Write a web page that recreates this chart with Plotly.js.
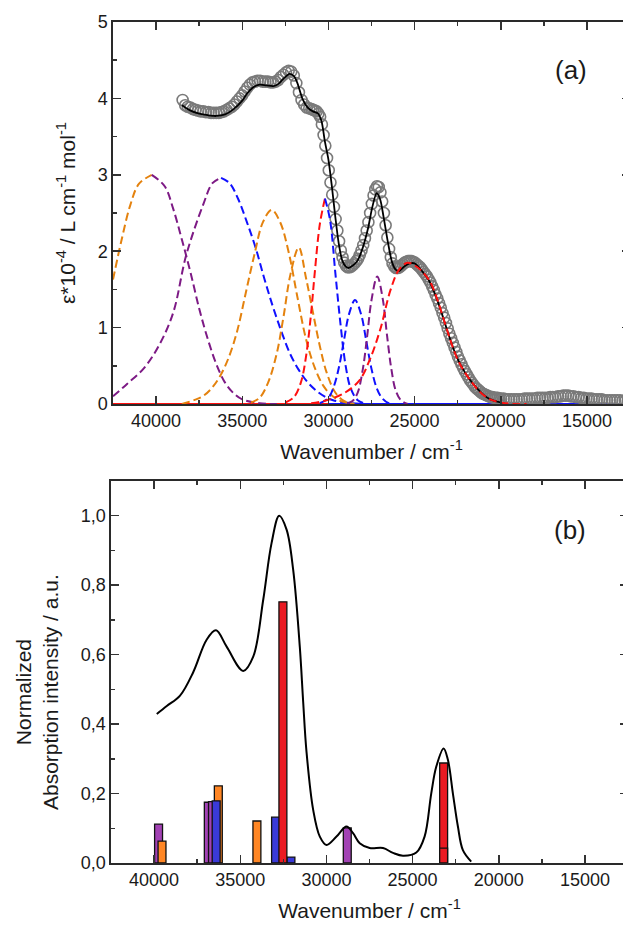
<!DOCTYPE html>
<html><head><meta charset="utf-8">
<script src="https://cdn.plot.ly/plotly-3.0.1.min.js"></script>
<style>html,body{margin:0;padding:0;overflow:hidden;background:#fff}#c{width:632px;height:927px}</style>
</head><body><div id="c"></div>
<script>
// ---------- Panel (a): experimental spectrum (open circles) ----------
const expX = [38460,38310,38160,38010,37860,37710,37560,37410,37260,37110,36960,36810,36660,36510,36360,36210,36060,35910,35760,35610,35460,35310,35160,35010,34860,34710,34560,34410,34260,34110,33960,33810,33660,33510,33360,33210,33060,32910,32760,32610,32460,32310,32160,32010,31860,31710,31560,31410,31260,31110,
30980,30880,30780,30680,30580,30480,30380,30280,30180,30080,29980,29880,29780,29680,29580,29480,29380,29280,29180,29080,28980,28880,28780,28680,28580,28480,28380,28280,28180,28080,27980,27880,27780,27680,27580,27480,27380,27280,27180,27080,26980,26880,26780,26680,26580,26480,26380,26280,26180,26080,
25980,25880,25780,25680,25580,25480,25380,25280,25180,25080,24980,24880,24780,24680,24580,24480,24380,24280,24180,24080,23980,23880,23780,23680,23580,23480,23380,23280,23180,23080,22980,22880,22780,22680,22580,22480,22380,22280,22180,22080,21980,21880,21780,21680,21580,21480,21380,21280,21180,21080,20980,20880,20780,20680,20580,20480,20380,20280,20180,20080,
19980,19830,19680,19530,19380,19230,19080,18930,18780,18630,18480,18330,18180,18030,17880,17730,17580,17430,17280,17130,16980,16830,16680,16530,16380,16230,16080,15930,15780,15630,15480,15330,15180,15030,14880,14730,14580,14430,14280,14130,13980,13830,13680,13530,13380,13230,13080,12930,12780,12630];
const expY = [3.98,3.91,3.89,3.88,3.86,3.85,3.84,3.83,3.83,3.82,3.82,3.81,3.81,3.81,3.81,3.82,3.83,3.85,3.87,3.89,3.92,3.96,4.00,4.04,4.09,4.14,4.18,4.21,4.22,4.23,4.23,4.22,4.22,4.22,4.21,4.21,4.22,4.24,4.28,4.31,4.34,4.36,4.35,4.30,4.20,4.08,3.98,3.92,3.88,3.87,
3.86,3.85,3.84,3.83,3.80,3.76,3.66,3.52,3.38,3.22,3.06,2.90,2.74,2.58,2.42,2.27,2.13,2.01,1.92,1.85,1.81,1.79,1.79,1.80,1.82,1.84,1.87,1.90,1.95,2.01,2.08,2.17,2.27,2.38,2.50,2.62,2.73,2.81,2.85,2.84,2.77,2.65,2.50,2.34,2.18,2.03,1.92,1.84,1.80,1.78,
1.78,1.79,1.81,1.83,1.85,1.86,1.87,1.87,1.87,1.86,1.85,1.83,1.81,1.79,1.76,1.73,1.70,1.67,1.63,1.59,1.54,1.49,1.43,1.38,1.32,1.26,1.19,1.13,1.06,0.99,0.92,0.86,0.80,0.74,0.68,0.62,0.57,0.52,0.47,0.43,0.39,0.35,0.31,0.28,0.25,0.22,0.20,0.18,0.16,0.14,0.13,0.12,0.11,0.10,0.09,0.09,0.08,0.08,0.08,0.07,
0.07,0.07,0.06,0.06,0.06,0.06,0.06,0.06,0.06,0.07,0.07,0.07,0.07,0.07,0.08,0.08,0.08,0.08,0.08,0.09,0.09,0.09,0.10,0.10,0.11,0.11,0.11,0.10,0.10,0.09,0.09,0.08,0.08,0.07,0.07,0.07,0.06,0.06,0.06,0.06,0.05,0.05,0.05,0.05,0.05,0.05,0.05,0.04,0.04,0.04];

// Fit (sum) curve
const fitX = [38500,38000,37500,37000,36500,36000,35500,35000,34700,34400,34000,33600,33200,32900,32600,32250,32000,31800,31500,31200,30900,30600,30400,30200,30000,29800,29600,29400,29200,29000,28850,28600,28300,28000,27700,27450,27200,27000,26800,26550,26300,26100,25900,25600,25300,25000,24600,24200,23800,23400,23000,22600,22200,21800,21400,21000,20600,20200,19800];
const fitY = [3.91,3.84,3.80,3.78,3.77,3.79,3.86,3.97,4.07,4.14,4.18,4.17,4.16,4.19,4.26,4.32,4.29,4.20,3.99,3.88,3.83,3.80,3.70,3.43,3.20,2.85,2.45,2.10,1.88,1.80,1.78,1.81,1.88,2.05,2.30,2.58,2.76,2.68,2.45,2.12,1.85,1.76,1.74,1.80,1.84,1.84,1.75,1.63,1.43,1.17,0.89,0.64,0.46,0.32,0.21,0.12,0.06,0.03,0.01];

// Gaussian components; split at the maximum where colour changes
const g1X = [42500,42000,41500,41000,40250,39500,39000,38500,38000,37500,37000,36500,36000,35500,35000,34000,33000];
const g1Y = [1.63,2.15,2.60,2.88,3.00,2.85,2.55,2.15,1.72,1.25,0.85,0.52,0.28,0.14,0.06,0.01,0.00];
const g2X = [42500,41700,40700,39800,39000,38250,37250,36730,36230,35730,35230,34730,34230,33730,33230,32730,32230,31730,31230,30730,30230,29730,29000,28000];
const g2Y = [0.10,0.26,0.47,0.78,1.20,1.95,2.62,2.89,2.96,2.89,2.68,2.38,2.05,1.65,1.28,0.95,0.66,0.45,0.29,0.18,0.10,0.05,0.02,0.00];
const g3X = [38500,37800,37300,36800,36300,35800,35300,34800,34300,33800,33290,32800,32300,31800,31300,30800,30300,29800,29300,28500];
const g3Y = [0.00,0.05,0.10,0.20,0.36,0.60,0.95,1.45,1.95,2.38,2.54,2.38,1.98,1.40,0.85,0.48,0.24,0.11,0.04,0.00];
const g4X = [34500,34000,33500,33000,32600,32200,31720,31300,30900,30500,30100,29600,29100,28500];
const g4Y = [0.02,0.08,0.28,0.66,1.15,1.70,2.05,1.65,1.20,0.76,0.41,0.15,0.04,0.00];
const g5X = [32500,32000,31600,31300,31000,30800,30500,30200,29900,29600,29300,29000,28700,28300,27800];
const g5Y = [0.02,0.09,0.28,0.62,1.20,1.70,2.35,2.69,2.40,1.72,1.05,0.50,0.20,0.05,0.00];
const g6X = [30500,30000,29700,29400,29100,28800,28456,28100,27800,27500,27200,26900,26500,26000];
const g6Y = [0.01,0.08,0.22,0.47,0.83,1.18,1.36,1.17,0.82,0.46,0.21,0.08,0.01,0.00];
const g7X = [28900,28600,28300,28000,27750,27500,27165,26850,26600,26350,26100,25800,25400];
const g7Y = [0.01,0.04,0.15,0.46,0.89,1.36,1.67,1.38,0.90,0.46,0.18,0.05,0.00];
const g8X = [31000,30100,29100,28200,27600,27000,26400,25900,25400,24900,24500,24100,23700,23300,22900,22500,22100,21700,21300,20900,20500,20000,19300,18500];
const g8Y = [0.01,0.05,0.14,0.31,0.58,0.97,1.49,1.76,1.85,1.80,1.72,1.60,1.38,1.10,0.82,0.58,0.42,0.29,0.18,0.10,0.05,0.02,0.00,0.00];
// zero baselines of the component bands
const baseRedX = [42500,30000], baseRedY = [0,0];
const baseBlueX = [30000,12500], baseBlueY = [0,0];

// ---------- Panel (b): calculated spectrum and transitions ----------
const calcX = [39844,39264,38494,37723,36950,36408,35790,34826,34246,33667,33183,32740,32311,31928,31541,31350,31155,30768,30382,29996,29415,28836,28455,28068,27489,26715,26136,25557,24784,24304,23918,23628,23199,22950,22660,22370,22081,21598];
const calcY = [0.429,0.452,0.482,0.550,0.643,0.670,0.623,0.553,0.594,0.758,0.921,1.000,0.960,0.844,0.620,0.465,0.320,0.153,0.076,0.052,0.076,0.105,0.086,0.057,0.043,0.043,0.029,0.021,0.030,0.076,0.200,0.277,0.330,0.297,0.200,0.105,0.037,0.004];
const purpleX = [39740,36854,36610,28790], purpleY = [0.112,0.175,0.177,0.101];
const orangeX = [39540,36273,34033], orangeY = [0.063,0.222,0.121];
const blueX = [36398,32950,32060], blueY = [0.179,0.132,0.017];
const redX = [32525,23198,23198], redY = [0.752,0.288,0.043];

const C = {orange:'#e4820e', purple:'#7d1a85', blue:'#1010ff', red:'#ff1010'};
const BAR = {orange:'#ff8624', purple:'#a242b4', blue:'#3a3ad8', red:'#ea1a22'};

function split(xs, ys, xPeak){
  const a={x:[],y:[]}, b={x:[],y:[]};
  xs.forEach((x,i)=>{ if(x>=xPeak){a.x.push(x);a.y.push(ys[i]);} if(x<=xPeak){b.x.push(x);b.y.push(ys[i]);} });
  return [a,b];
}
function dashed(p, col){
  return {x:p.x, y:p.y, type:'scatter', mode:'lines', xaxis:'x', yaxis:'y',
    line:{color:col, width:2, dash:'8px,4px', shape:'spline', smoothing:1}, hoverinfo:'skip'};
}
const traces = [];
traces.push({x:baseRedX, y:baseRedY, mode:'lines', xaxis:'x', yaxis:'y', line:{color:C.red, width:2}});
traces.push({x:baseBlueX, y:baseBlueY, mode:'lines', xaxis:'x', yaxis:'y', line:{color:C.blue, width:2}});
traces.push({x:expX, y:expY, type:'scatter', mode:'markers', xaxis:'x', yaxis:'y',
  marker:{symbol:'circle-open', size:11, color:'#7a7a7a', line:{width:1.6}}});
let [a,b] = split(g1X,g1Y,40250); traces.push(dashed(a,C.orange), dashed(b,C.purple));
[a,b] = split(g2X,g2Y,36230); traces.push(dashed(a,C.purple), dashed(b,C.blue));
traces.push(dashed({x:g3X,y:g3Y},C.orange));
traces.push(dashed({x:g4X,y:g4Y},C.orange));
[a,b] = split(g5X,g5Y,30200); traces.push(dashed(a,C.red), dashed(b,C.blue));
traces.push(dashed({x:g6X,y:g6Y},C.blue));
traces.push(dashed({x:g7X,y:g7Y},C.purple));
traces.push({x:fitX, y:fitY, mode:'lines', xaxis:'x', yaxis:'y', line:{color:'#000', width:1.8, shape:'spline', smoothing:0.8}});
traces.push(dashed({x:g8X,y:g8Y},C.red));

function bars(xs, ys, col){
  return {x:xs, y:ys, type:'bar', xaxis:'x2', yaxis:'y2', width:460,
    marker:{color:col, line:{color:'#111', width:1.3}}, hoverinfo:'skip'};
}
traces.push(bars(purpleX,purpleY,BAR.purple));
traces.push(bars(orangeX,orangeY,BAR.orange));
traces.push(bars(blueX,blueY,BAR.blue));
traces.push(bars(redX,redY,BAR.red));
traces.push({x:calcX, y:calcY, mode:'lines', xaxis:'x2', yaxis:'y2', line:{color:'#000', width:2, shape:'spline', smoothing:1}});

const W = 632, H = 927;
const axCommon = {ticks:'inside', ticklen:8, tickwidth:1.5, tickcolor:'#333', showline:true, linewidth:1.6,
  linecolor:'#2a2a2a', mirror:'ticks', showgrid:false, zeroline:false, tickfont:{size:18, color:'#1a1a1a'}};
const layout = {
  width:W, height:H, margin:{l:0,r:0,t:0,b:0}, paper_bgcolor:'#fff', plot_bgcolor:'#fff',
  font:{family:'Liberation Sans, Arial, sans-serif', color:'#1a1a1a'},
  separators:',.', showlegend:false, barmode:'overlay',
  xaxis: Object.assign({}, axCommon, {domain:[113/W, 630/W], range:[42500,12500], anchor:'y', dtick:5000, tick0:0, tickformat:'d',
    minor:{dtick:2500, ticks:'inside', ticklen:4, tickcolor:'#333'},
    title:{text:'Wavenumber / cm<sup>-1</sup>', font:{size:21}, standoff:14}}),
  yaxis: Object.assign({}, axCommon, {domain:[1-404/H, 1-22/H], range:[0,5], anchor:'x', dtick:1, tickformat:'d',
    minor:{dtick:0.5, ticks:'inside', ticklen:4, tickcolor:'#333'},
    title:{text:'ε*10<sup>-4</sup> / L cm<sup>-1</sup> mol<sup>-1</sup>', font:{size:21}, standoff:16}}),
  xaxis2: Object.assign({}, axCommon, {domain:[111/W, 628/W], range:[42500,12500], anchor:'y2', dtick:5000, tick0:0, tickformat:'d',
    minor:{dtick:2500, ticks:'inside', ticklen:4, tickcolor:'#333'},
    title:{text:'Wavenumber / cm<sup>-1</sup>', font:{size:21}, standoff:14}}),
  yaxis2: Object.assign({}, axCommon, {domain:[1-863/H, 1-481/H], range:[0,1.1], anchor:'x2', dtick:0.2, tickformat:'.1f',
    minor:{dtick:0.1, ticks:'inside', ticklen:4, tickcolor:'#333'}}),
  annotations:[
    {text:'Normalized<br>Absorption intensity / a.u.', xref:'paper', yref:'paper', x:37/W, y:1-692/H, textangle:-90,
      showarrow:false, font:{size:21}, xanchor:'center', yanchor:'middle'},
    {text:'(a)', xref:'paper', yref:'paper', x:571/W, y:1-70/H, showarrow:false, font:{size:26}, xanchor:'center', yanchor:'middle'},
    {text:'(b)', xref:'paper', yref:'paper', x:570/W, y:1-530/H, showarrow:false, font:{size:26}, xanchor:'center', yanchor:'middle'}
  ]
};
Plotly.newPlot('c', traces, layout, {staticPlot:true, displayModeBar:false});
</script></body></html>
